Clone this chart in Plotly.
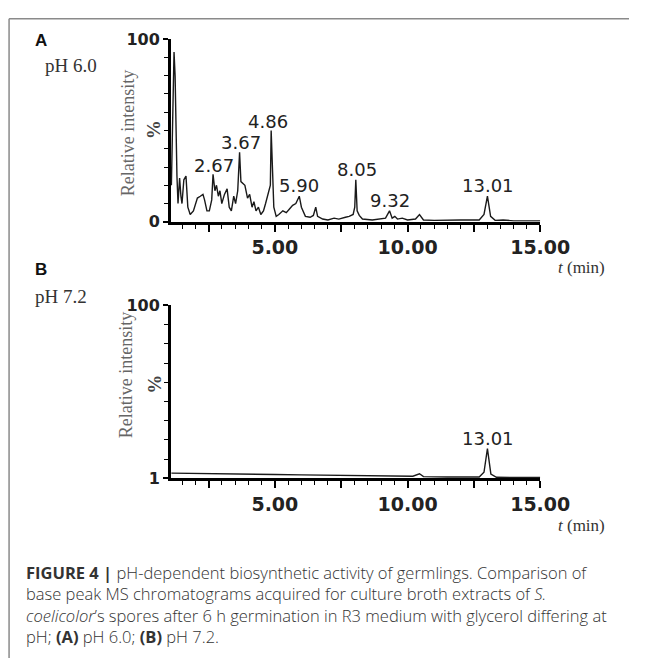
import plotly.graph_objects as go

W, H = 659, 672

# ---------------- data ----------------
# Panel A (pH 6.0) base peak chromatogram: retention time (min), relative intensity (%)
tA = [1.10, 1.15, 1.20, 1.24, 1.27, 1.31, 1.35, 1.41, 1.46, 1.50, 1.57, 1.65, 1.72, 1.81,
      1.93, 2.00, 2.08, 2.19, 2.29, 2.35, 2.44, 2.53, 2.62, 2.67, 2.74, 2.80, 2.87, 2.93,
      3.00, 3.10, 3.20, 3.28, 3.36, 3.45, 3.52, 3.60, 3.67, 3.72, 3.80, 3.87, 3.97, 4.05,
      4.14, 4.21, 4.29, 4.38, 4.47, 4.57, 4.65, 4.72, 4.78, 4.83, 4.86, 4.90, 4.96, 5.05,
      5.15, 5.30, 5.43, 5.55, 5.67, 5.79, 5.85, 5.92, 6.00, 6.15, 6.33, 6.45, 6.54, 6.61,
      6.80, 7.00, 7.23, 7.41, 7.66, 7.80, 7.95, 8.01, 8.05, 8.10, 8.18, 8.30, 8.67, 8.96,
      9.17, 9.32, 9.42, 9.52, 9.62, 9.80, 10.00, 10.30, 10.45, 10.60, 11.00, 12.00, 12.70,
      12.88, 13.01, 13.13, 13.30, 13.60, 14.00, 15.00]
iA = [20, 60, 93, 80, 42, 25, 10, 24, 14, 10, 23, 25, 8, 4,
      6, 9, 13, 14, 15, 12, 6, 6, 12, 26, 17, 20, 14, 17,
      10, 15, 18, 8, 6, 14, 10, 17, 38, 22, 21, 20, 13, 15,
      8, 11, 6, 8, 4, 6, 10, 14, 17, 20, 50, 30, 8, 3,
      4, 6, 5, 7, 9, 10, 12, 14, 8, 3, 2.5, 3.5, 8, 3,
      1.5, 1, 2, 1.5, 2.5, 3, 4, 8, 23, 6, 3.5, 1.5, 1, 1.5,
      2, 6, 2, 3, 1.5, 2, 1, 1.5, 4, 1, 0.8, 1, 1,
      4, 14, 3, 0.8, 1, 0.5, 0.5]

# Panel B (pH 7.2)
tB = [1.10, 2.0, 3.0, 4.0, 5.0, 6.0, 7.0, 8.0, 9.0, 10.2, 10.45, 10.6, 11.5, 12.7,
      12.88, 13.01, 13.14, 13.35, 14.0, 15.0]
iB = [4.0, 3.9, 3.7, 3.4, 3.2, 3.0, 2.8, 2.6, 2.4, 2.2, 3.6, 2.0, 1.8, 1.8,
      4.5, 18, 3.5, 1.6, 1.5, 1.5]

# peak labels (text, x, y in data units)
peaksA = ["2.67", "3.67", "4.86", "5.90", "8.05", "9.32", "13.01"]
peaksA_x = [2.72, 3.72, 4.75, 5.90, 8.08, 9.32, 13.02]
peaksA_y = [31, 43.5, 55, 20, 28.5, 11.5, 20]
peaksB = ["13.01"]
peaksB_x = [13.02]
peaksB_y = [24]

x_tickvals = [2.5, 5, 7.5, 10, 12.5, 15]
x_ticktext = ["", "5.00", "", "10.00", "", "15.00"]
yA_tickvals = [0, 100]
yA_ticktext = ["0", "100"]
yB_tickvals = [1, 100]
yB_ticktext = ["1", "100"]

# ---------------- figure ----------------
def px(x):
    return x / W

def py(y):
    return 1 - y / H

fig = go.Figure()
fig.add_trace(go.Scatter(x=tA, y=iA, mode="lines", line=dict(color="#1a1a1a", width=1.4),
                         xaxis="x", yaxis="y", showlegend=False, hoverinfo="skip"))
fig.add_trace(go.Scatter(x=tB, y=iB, mode="lines", line=dict(color="#1a1a1a", width=1.4),
                         xaxis="x2", yaxis="y2", showlegend=False, hoverinfo="skip"))

tickfont_x = dict(family="DejaVu Sans", size=19, color="#222", weight="bold")
tickfont_y = dict(family="DejaVu Sans", size=16, color="#222", weight="bold")

xcommon = dict(range=[1.08, 15], showline=True, linecolor="black", linewidth=2.5,
               ticks="outside", ticklen=7, tickwidth=1.5, tickcolor="black",
               tickmode="array", tickvals=x_tickvals, ticktext=x_ticktext,
               tickfont=tickfont_x, showgrid=False, zeroline=False,
               minor=dict(tickmode="linear", tick0=0, dtick=0.5, ticks="outside",
                          ticklen=4, tickwidth=1.2, tickcolor="black", showgrid=False))

fig.update_layout(
    width=W, height=H, margin=dict(l=0, r=0, t=0, b=0),
    paper_bgcolor="white", plot_bgcolor="white",
    xaxis=dict(domain=[px(179), px(566)], anchor="y", **xcommon),
    yaxis=dict(domain=[py(219), py(31)], anchor="x", range=[0, 100],
               showline=True, linecolor="black", linewidth=2.5,
               ticks="outside", ticklen=5, tickwidth=1.5, tickcolor="black",
               tickmode="array", tickvals=yA_tickvals, ticktext=yA_ticktext,
               tickfont=tickfont_y, showgrid=False, zeroline=False,
               minor=dict(tickmode="linear", tick0=0, dtick=10, ticks="outside",
                          ticklen=4, tickwidth=1.2, tickcolor="black", showgrid=False)),
    xaxis2=dict(domain=[px(179), px(566)], anchor="y2", **xcommon),
    yaxis2=dict(domain=[py(483), py(305)], anchor="x2", range=[1, 100],
                showline=True, linecolor="black", linewidth=2.5,
                ticks="outside", ticklen=5, tickwidth=1.5, tickcolor="black",
                tickmode="array", tickvals=yB_tickvals, ticktext=yB_ticktext,
                tickfont=tickfont_y, showgrid=False, zeroline=False,
                minor=dict(tickmode="linear", tick0=1, dtick=11, ticks="outside",
                           ticklen=4, tickwidth=1.2, tickcolor="black", showgrid=False)),
)

ann = []
lab_font = dict(family="DejaVu Sans", size=18, color="#222")
for t, x, y in zip(peaksA, peaksA_x, peaksA_y):
    ann.append(dict(text=t, x=x, y=y, xref="x", yref="y", showarrow=False,
                    xanchor="center", yanchor="middle", font=lab_font))
for t, x, y in zip(peaksB, peaksB_x, peaksB_y):
    ann.append(dict(text=t, x=x, y=y, xref="x2", yref="y2", showarrow=False,
                    xanchor="center", yanchor="middle", font=lab_font))

def paper_text(text, x, y, size, family, color="#222", xanchor="center", angle=0, weight=None):
    f = dict(family=family, size=size, color=color)
    if weight is not None:
        f["weight"] = weight
    ann.append(dict(text=text, x=px(x), y=py(y), xref="paper", yref="paper",
                    showarrow=False, xanchor=xanchor, yanchor="middle", textangle=angle,
                    font=f))

serif = "Liberation Serif"
# Panel letters and conditions
paper_text("<b>A</b>", 43, 32, 17, "Liberation Sans", "#111")
paper_text("pH 6.0", 45, 58, 19, serif, "#333", xanchor="left")
paper_text("<b>B</b>", 43, 268, 17, "Liberation Sans", "#111")
paper_text("pH 7.2", 35, 296, 19, serif, "#333", xanchor="left")
# Axis titles
paper_text("Relative intensity", 135, 128, 18, serif, "#666", angle=-90)
paper_text("<b>%</b>", 161, 124, 19, serif, "#444", angle=-90)
paper_text("Relative intensity", 132, 377, 18, serif, "#666", angle=-90)
paper_text("<b>%</b>", 161, 386, 19, serif, "#444", angle=-90)
paper_text("<i>t</i> (min)", 609, 266, 17, serif, "#333")
paper_text("<i>t</i> (min)", 609, 532, 17, serif, "#333")

# Caption
cap_font = "Open Sans"
cap_lines = [
    "<b>FIGURE 4 |</b> pH-dependent biosynthetic activity of germlings. Comparison of",
    "base peak MS chromatograms acquired for culture broth extracts of <i>S.</i>",
    "<i>coelicolor</i>’s spores after 6 h germination in R3 medium with glycerol differing at",
    "pH; <b>(A)</b> pH 6.0; <b>(B)</b> pH 7.2.",
]
cap_y = [580, 602, 624, 646]
for line, yy in zip(cap_lines, cap_y):
    paper_text(line, 25, yy, 16.5, cap_font, "#333", xanchor="left", weight=300)

fig.update_layout(annotations=ann)

# Frame lines (top and left)
fig.add_shape(type="line", xref="paper", yref="paper", x0=px(9.5), x1=1, y0=py(10), y1=py(10),
              line=dict(color="#8a8a8a", width=1.5))
fig.add_shape(type="line", xref="paper", yref="paper", x0=px(9.5), x1=px(9.5), y0=py(10), y1=py(668),
              line=dict(color="#8a8a8a", width=1.5))

fig.write_html("out.html")
